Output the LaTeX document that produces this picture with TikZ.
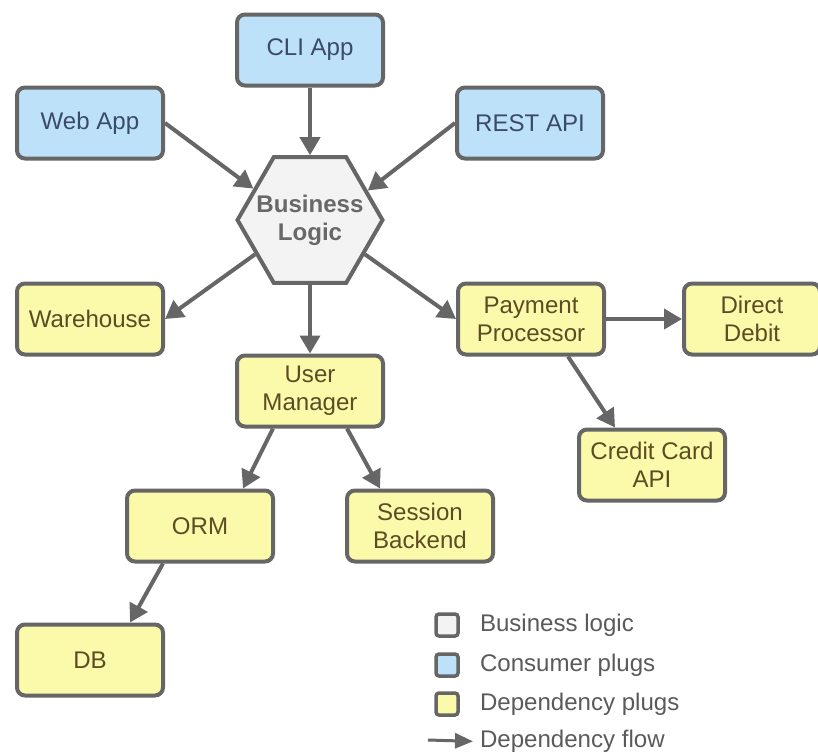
\documentclass[tikz,border=0pt]{standalone}
\usepackage{fontspec}
\setmainfont{Liberation Sans}
\def\boxw{2.92cm}
\def\boxh{1.42cm}
\usepackage{tikz}
\usetikzlibrary{arrows.meta}
\usetikzlibrary{shapes.geometric}
\definecolor{linegray}{HTML}{666666}
\definecolor{logicfill}{HTML}{F3F3F3}
\definecolor{logictext}{HTML}{686868}
\definecolor{consumerfill}{HTML}{BEE1FA}
\definecolor{consumertext}{HTML}{3B4A68}
\definecolor{dependfill}{HTML}{FAFAAA}
\definecolor{dependtext}{HTML}{5C4C24}
\definecolor{legendtext}{HTML}{5A5A5A}

\begin{document}
\begin{tikzpicture}[draw=linegray, line width=0.08cm, >={Triangle[length=0.36cm,width=0.4cm]}]
	\tikzstyle{plug}=[rectangle,rounded corners=0.16cm,draw=linegray,minimum width=\boxw,minimum height=\boxh,inner sep=0pt,align=center,font=\fontsize{13.7}{16}\selectfont]
	\tikzstyle{consumer plug}=[plug, fill=consumerfill, text=consumertext];
	\tikzstyle{dependency plug}=[plug, fill=dependfill, text=dependtext];
	\tikzstyle{logic}=[regular polygon,regular polygon sides=6,minimum size=2.9cm,inner sep=0pt,draw=linegray,fill=logicfill];
	\tikzstyle{logic label}=[text=logictext,align=center,font=\fontsize{13.7}{16}\selectfont\bfseries];
	\tikzstyle{flow}=[->, draw=linegray];
	\tikzstyle{key}=[rectangle,rounded corners=0.06cm,draw=linegray,line width=0.07cm,minimum size=0.44cm,inner sep=0pt];
	\tikzstyle{annot}=[anchor=west,inner sep=0pt,text=legendtext,font=\fontsize{13.7}{16}\selectfont];

	\clip (0,0) rectangle (16.36,-15.12);

	% Draw the business logic in the middle
	\node[logic, label={[logic label]center:Business\\Logic}] (BL) at (6.2,-4.4) {};

	% Draw the consumer plugs
	\foreach \name / \x / \y / \txt in {cli/6.2/1.0/CLI App, web/1.8/2.46/Web App, rest/10.6/2.46/REST API}
	\node[consumer plug] (\name) at (\x,-\y) {\txt};

	% Draw the dependency plugs
	\foreach \name / \x / \y / \txt in {wh/1.8/6.38/Warehouse, pay/10.62/6.38/{Payment\\Processor},
		um/6.2/7.82/{User\\Manager}, cc/13.04/9.3/{Credit Card\\API},
		orm/4.0/10.52/ORM, sess/8.4/10.52/{Session\\Backend}, db/1.8/13.2/DB}
	\node[dependency plug] (\name) at (\x,-\y) {\txt};
	\node[dependency plug, minimum width=2.72cm] (dd) at (15.04,-6.38) {Direct\\Debit};

	% Connect plugs to the business logic
	\foreach \source / \dest in {web.east/BL.151, cli.south/BL.north, rest.west/BL.27,
		BL.212/wh.east, BL.south/um.north, BL.-32/pay.west, pay.east/dd.west}
	\draw[flow] (\source) -- (\dest);

	% Connect dependencies further down
	\foreach \source / \a / \dest / \b in {pay/0.74/cc/-0.74, um/-0.74/orm/0.86,
		um/0.74/sess/-0.8, orm/-0.74/db/0.8}
	\draw[flow] ([xshift=\a cm]\source.south) -- ([xshift=\b cm]\dest.north);

	% Legend
	\foreach \name / \y / \col / \txt in {1/12.5/logicfill/Business logic, 2/13.3/consumerfill/Consumer plugs,
		3/14.08/dependfill/Dependency plugs}
	{
	\node[key, fill=\col] (K-\name) at (8.94,-\y) {};
	\node[annot] (A-\name) at (9.56,-\y) {\txt};
	}
	\node[annot] (A-4) at (9.56,-14.83) {Dependency flow};
	\coordinate (F-4) at (8.56,-14.8);
	\draw[->, line width=0.06cm, >={Triangle[length=0.36cm,width=0.3cm]}, shorten >=0.1cm] (F-4) -- (A-4.west);

\end{tikzpicture}
\end{document}
